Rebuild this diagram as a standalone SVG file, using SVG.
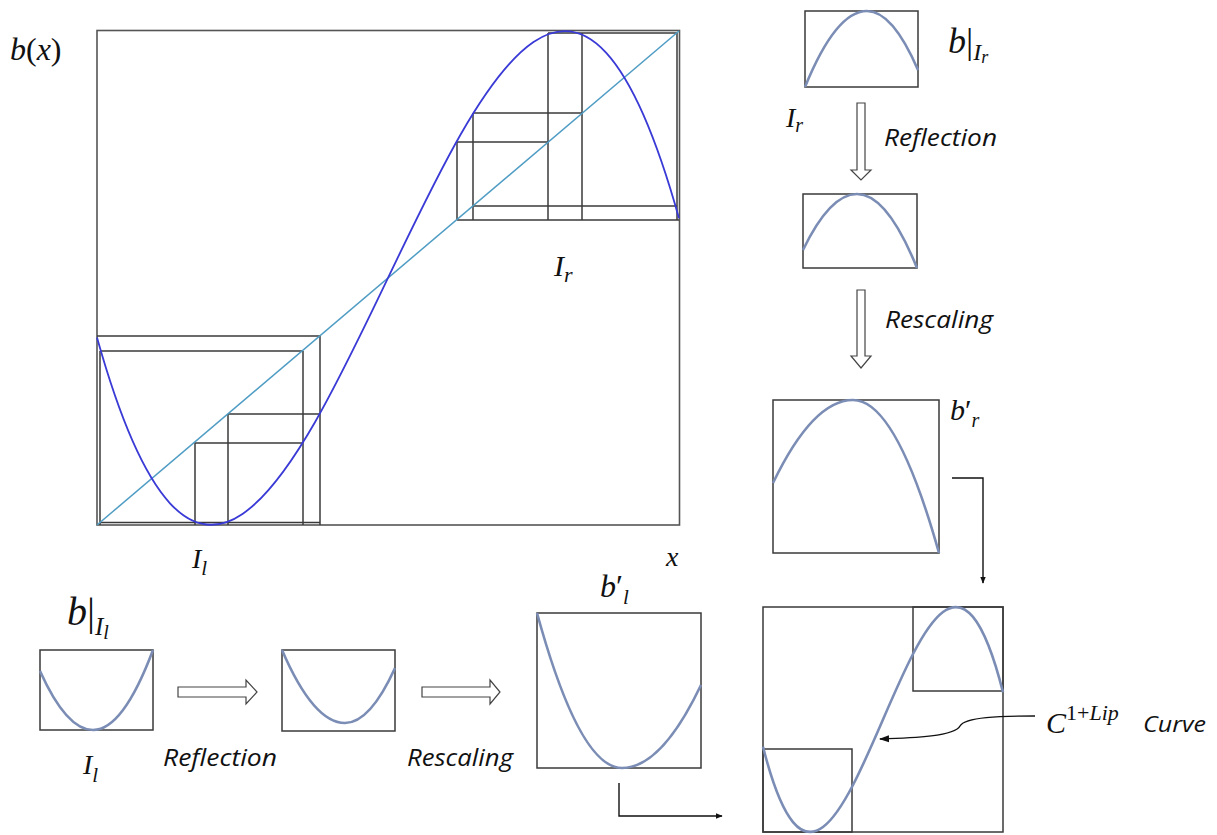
<svg xmlns="http://www.w3.org/2000/svg" width="1217" height="835" viewBox="0 0 1217 835">
<style>
.frame{fill:none;stroke:#555;stroke-width:1.6}
.cob{fill:none;stroke:#3a3a3a;stroke-width:1.5}
.diag{fill:none;stroke:#4f9cc4;stroke-width:1.5}
.map{fill:none;stroke:#3a3ad6;stroke-width:1.8}
.box{fill:none;stroke:#3a3a3a;stroke-width:1.5}
.sc{fill:none;stroke:#7b8db5;stroke-width:2.6}
.hollow{fill:#fff;stroke:#444;stroke-width:1.2}
.conn{fill:none;stroke:#111;stroke-width:1.4}
.m{font-family:"Liberation Serif",serif;fill:#111}
.i{font-style:italic}
.lbl{font-family:"Open Sans","Liberation Sans",sans-serif;font-style:italic;fill:#111}
</style>
<defs>
<marker id="ah" viewBox="0 0 10 10" refX="9" refY="5" markerWidth="7" markerHeight="7" orient="auto" markerUnits="userSpaceOnUse">
<path d="M0,1 L10,5 L0,9 Z" fill="#111"/>
</marker>
<marker id="ah2" viewBox="0 0 10 10" refX="9" refY="5" markerWidth="10" markerHeight="10" orient="auto" markerUnits="userSpaceOnUse">
<path d="M0,1.5 L10,5 L0,8.5 Z" fill="#111"/>
</marker>
</defs>

<g id="main-plot">
<rect class="frame" x="97" y="30.5" width="582.5" height="494.5"/>
<g id="cobweb-right">
<line class="cob" x1="548" y1="33" x2="677" y2="33"/>
<line class="cob" x1="677" y1="33" x2="677" y2="220"/>
<line class="cob" x1="457" y1="220" x2="679" y2="220"/>
<line class="cob" x1="473" y1="206" x2="677" y2="206"/>
<line class="cob" x1="457" y1="142" x2="548" y2="142"/>
<line class="cob" x1="473" y1="113" x2="582" y2="113"/>
<line class="cob" x1="457" y1="142" x2="457" y2="220"/>
<line class="cob" x1="473" y1="113" x2="473" y2="220"/>
<line class="cob" x1="548" y1="33" x2="548" y2="220"/>
<line class="cob" x1="582" y1="33" x2="582" y2="220"/>
</g>
<g id="cobweb-left">
<line class="cob" x1="97" y1="336" x2="320" y2="336"/>
<line class="cob" x1="100" y1="351" x2="303" y2="351"/>
<line class="cob" x1="100" y1="351" x2="100" y2="525"/>
<line class="cob" x1="303" y1="351" x2="303" y2="525"/>
<line class="cob" x1="320" y1="336" x2="320" y2="525"/>
<line class="cob" x1="228" y1="414" x2="320" y2="414"/>
<line class="cob" x1="195" y1="443" x2="303" y2="443"/>
<line class="cob" x1="195" y1="443" x2="195" y2="525"/>
<line class="cob" x1="228" y1="414" x2="228" y2="525"/>
<line class="cob" x1="100" y1="522.5" x2="320" y2="522.5"/>
</g>
<line class="diag" x1="97" y1="525" x2="679" y2="31"/>
<path class="map" d="M97,337.6 C291,1030.7 485,-474.7 679,218.2"/>
<text class="m" x="10" y="60" font-size="32"><tspan class="i">b</tspan>(<tspan class="i">x</tspan>)</text>
<text class="m i" x="554" y="276" font-size="30">I<tspan font-size="22" dy="6">r</tspan></text>
<text class="m i" x="192" y="568" font-size="28">I<tspan font-size="21" dy="7">l</tspan></text>
<text class="m i" x="666" y="566" font-size="28">x</text>
</g>

<g id="box-b-Ir">
<rect class="box" x="805" y="11" width="113" height="76"/>
<path class="sc" d="M805,87 Q836,11 867,11 Q892.5,11 918,70"/>
<text class="m" x="948" y="53" font-size="36"><tspan class="i">b</tspan>|<tspan class="i" font-size="24" dy="7">I</tspan><tspan class="i" font-size="18" dy="3">r</tspan></text>
<text class="m i" x="786" y="127" font-size="28">I<tspan font-size="20" dy="5">r</tspan></text>
</g>

<g id="box-reflected-r">
<rect class="box" x="803" y="194" width="114" height="74"/>
<path class="sc" d="M803,250 Q830,194 857,194 Q887,194 917,268"/>
</g>

<g id="box-b-r-prime">
<rect class="box" x="773" y="400" width="166" height="153"/>
<path class="sc" d="M773,483 Q813,400 853,400 Q896,400 939,553"/>
<text class="m i" x="950" y="420" font-size="30">b<tspan font-style="normal">′</tspan><tspan font-size="20" dy="7">r</tspan></text>
</g>

<g id="box-b-Il">
<rect class="box" x="40" y="650" width="113" height="80"/>
<path class="sc" d="M40,671 Q66.5,730 93,730 Q123,730 153,650"/>
<text class="m" x="67" y="625" font-size="40"><tspan class="i">b</tspan>|<tspan class="i" font-size="25" dy="10">I</tspan><tspan class="i" font-size="20" dy="4">l</tspan></text>
<text class="m i" x="83" y="774" font-size="28">I<tspan font-size="21" dy="8">l</tspan></text>
</g>

<g id="box-reflected-l">
<rect class="box" x="282" y="650" width="113" height="81"/>
<path class="sc" d="M282,650 Q313.5,723 345,723 Q370,723 395,668"/>
</g>

<g id="box-b-l-prime">
<rect class="box" x="537" y="613" width="164" height="155"/>
<path class="sc" d="M537,613 Q579.5,768 622,768 Q661.5,768 701,685"/>
<text class="m i" x="600" y="597" font-size="32">b<tspan font-style="normal">′</tspan><tspan font-size="21" dy="7">l</tspan></text>
</g>

<g id="box-combined">
<rect class="box" x="763" y="607" width="240" height="225"/>
<rect class="box" x="913" y="607" width="90" height="84"/>
<rect class="box" x="763" y="749" width="89" height="83"/>
<path class="sc" d="M763,746.7 C843,1062.4 923,376.6 1003,692.3"/>
<text class="m i" x="1046" y="733" font-size="30">C<tspan font-size="22" dy="-13" font-style="normal">1+</tspan><tspan font-size="22">Lip</tspan></text>
<text class="lbl" x="1143" y="732" font-size="22" textLength="63" lengthAdjust="spacingAndGlyphs">Curve</text>
</g>

<g id="labels">
<text class="lbl" x="884" y="146" font-size="23" textLength="113" lengthAdjust="spacingAndGlyphs">Reflection</text>
<text class="lbl" x="885" y="328" font-size="23" textLength="108" lengthAdjust="spacingAndGlyphs">Rescaling</text>
<text class="lbl" x="163" y="766" font-size="23" textLength="114" lengthAdjust="spacingAndGlyphs">Reflection</text>
<text class="lbl" x="407" y="766" font-size="23" textLength="106" lengthAdjust="spacingAndGlyphs">Rescaling</text>
</g>

<g id="connectors">
<polygon class="hollow" points="857,103 865,103 865,170 871,170 861,180 851,170 857,170"/>
<polygon class="hollow" points="857,290 865,290 865,356 871,356 861,368 851,356 857,356"/>
<polygon class="hollow" points="178,687 246,687 246,680 257,692 246,704 246,697 178,697"/>
<polygon class="hollow" points="422,687 490,687 490,680 500,692 490,704 490,697 422,697"/>
<polyline class="conn" points="952,478 983,478 983,583" marker-end="url(#ah)"/>
<polyline class="conn" points="619,783 619,816 722,816" marker-end="url(#ah)"/>
<path class="conn" d="M1035,716 C1000,716 965,717 960,726 C955,736 915,738 880,739" marker-end="url(#ah2)"/>
</g>
</svg>
